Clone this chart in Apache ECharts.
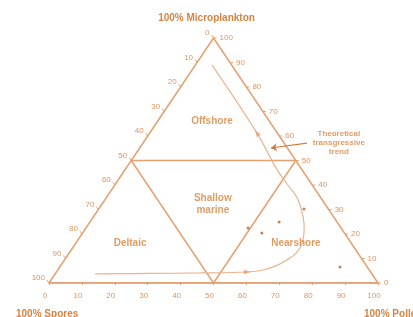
<!DOCTYPE html>
<html>
<head>
<meta charset="utf-8">
<style>
  html, body { margin: 0; padding: 0; background: #fff; }
  #chart { width: 413px; height: 317px; }
</style>
</head>
<body>
<div id="chart"></div>
<script src="https://cdn.jsdelivr.net/npm/echarts@6/dist/echarts.min.js"></script>
<script>
// ternary points are [pollen %, microplankton %]; spores = 100 - both
var sideTicks = [0, 10, 20, 30, 40, 50, 60, 70, 80, 90, 100];
var outline = [[0, 0], [100, 0], [0, 100], [0, 0]];
var midLine = [[0, 50], [50, 50]];
var innerV = [[0, 50], [50, 0], [50, 50]];
var samples = [[49.3, 22.4], [54.5, 20.4], [57.5, 24.9], [62.4, 30.2], [85.2, 6.5]];
var trend = [
  [12.2, 3.7], [28.8, 3.9], [43.9, 4.1], [58.0, 4.5], [62.4, 5.3], [65.3, 6.9],
  [67.6, 9.4], [69.0, 12.2], [68.8, 16.3], [66.1, 22.9], [62.4, 29.0],
  [58.1, 34.7], [52.6, 40.0], [45.6, 46.9], [32.6, 61.2], [5.0, 89.0]
];
var trendArrows = [[58.0, 4.5, -90], [32.6, 61.2, 32]];
var pointer = [[49.9, 57.1], [39.9, 55.1]];
var zones = [
  ['Offshore', 16.5, 66.1],
  ['Shallow\nmarine', 33.7, 32.2],
  ['Deltaic', 16.5, 16.3],
  ['Nearshore', 66.9, 16.3]
];

var lineCol = '#e4a171';
var textCol = '#d8833f';
var font = 'Liberation Sans';

function xy(t) { return [t[0] + t[1] / 2, t[1]]; }

// side tick data: [x, y, side, label]
var sideData = [];
sideTicks.forEach(function (v) {
  var l = xy([0, 100 - v]);
  sideData.push([l[0], l[1], 0, v]);
  var r = xy([100 - v, v]);
  sideData.push([r[0], r[1], 1, v]);
});

function lineSeries(pts) {
  return {
    type: 'line', data: pts.map(xy), symbol: 'none', silent: true,
    lineStyle: { color: lineCol, width: 1.5 }, z: 2
  };
}

var chart = echarts.init(document.getElementById('chart'));
chart.setOption({
  animation: false,
  textStyle: { fontFamily: font },
  title: [
    { text: '100% Microplankton', left: 'center', top: 8,
      textStyle: { fontSize: 10, fontWeight: 'bold', color: textCol, fontFamily: font } },
    { text: '100% Spores', left: 11, top: 304,
      textStyle: { fontSize: 10, fontWeight: 'bold', color: textCol, fontFamily: font } },
    { text: '100% Pollen', left: 359, top: 304,
      textStyle: { fontSize: 10, fontWeight: 'bold', color: textCol, fontFamily: font } }
  ],
  grid: { left: 49, right: 35, top: 38, bottom: 34 },
  xAxis: {
    type: 'value', min: 0, max: 100, interval: 10,
    axisLine: { lineStyle: { color: lineCol, width: 1.5 } },
    axisTick: { show: true, length: 2, inside: false, lineStyle: { color: lineCol } },
    axisLabel: { color: '#dc9460', fontSize: 8, margin: 9, padding: [0, 8, 0, 0] },
    splitLine: { show: false }
  },
  yAxis: { type: 'value', min: 0, max: 100, show: false },
  series: [
    lineSeries(outline),
    lineSeries(midLine),
    lineSeries(innerV),
    {
      type: 'line', data: trend.map(xy), symbol: 'none', smooth: 0.4, silent: true,
      lineStyle: { color: '#e8b58e', width: 1.2 }, z: 3
    },
    {
      type: 'scatter', symbol: 'triangle', symbolSize: [5, 7], silent: true,
      data: trendArrows.map(function (a) {
        return { value: xy(a), symbolRotate: a[2] };
      }),
      itemStyle: { color: '#e3a375' }, z: 4
    },
    {
      type: 'scatter', symbolSize: 3, data: samples.map(xy), silent: true,
      itemStyle: { color: '#b4642e' }, z: 5
    },
    {
      type: 'lines', coordinateSystem: 'cartesian2d', silent: true,
      symbol: ['none', 'arrow'], symbolSize: 6,
      lineStyle: { color: '#d47a38', width: 1.2, opacity: 1 },
      data: [{ coords: pointer.map(xy) }], z: 5
    },
    {
      type: 'scatter', symbolSize: 0, silent: true,
      data: [[88.1, 57.1]],
      label: {
        show: true, position: 'inside', formatter: 'Theoretical\ntransgressive\ntrend',
        color: textCol, fontSize: 8, fontWeight: 'bold', lineHeight: 9, fontFamily: font
      }, z: 6
    },
    {
      type: 'scatter', symbolSize: 0, silent: true,
      data: zones.map(function (z) { return { value: xy([z[1], z[2]]), name: z[0] }; }),
      label: {
        show: true, position: 'inside', formatter: '{b}',
        color: textCol, fontSize: 10, fontWeight: 'bold', lineHeight: 12, fontFamily: font
      }, z: 6
    },
    {
      type: 'custom', silent: true, z: 6,
      data: sideData,
      renderItem: function (params, api) {
        var p = api.coord([api.value(0), api.value(1)]);
        var right = api.value(2) === 1;
        var tick = right ? [p[0], p[1], p[0] + 3, p[1]] : [p[0], p[1], p[0] - 2, p[1] - 3];
        return {
          type: 'group',
          children: [
            { type: 'line', shape: { x1: tick[0], y1: tick[1], x2: tick[2], y2: tick[3] },
              style: { stroke: lineCol, lineWidth: 1 } },
            { type: 'text',
              style: {
                text: String(api.value(3)),
                x: right ? p[0] + 6 : p[0] - 4,
                y: right ? p[1] : p[1] - 5,
                align: right ? 'left' : 'right', verticalAlign: 'middle',
                fill: '#dc9460', font: '8px ' + font
              } }
          ]
        };
      }
    }
  ]
});
</script>
</body>
</html>
